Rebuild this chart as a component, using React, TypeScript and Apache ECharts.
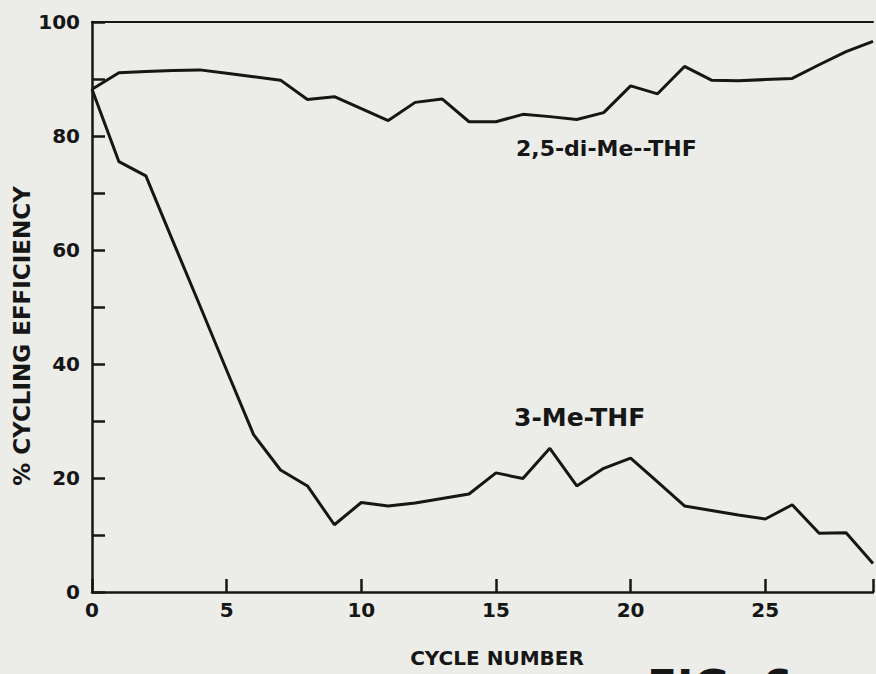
import React, { useEffect, useRef } from "react";
import * as echarts from "echarts";

const cycles = [0, 1, 2, 3, 4, 5, 6, 7, 8, 9, 10, 11, 12, 13, 14, 15, 16, 17, 18, 19, 20, 21, 22, 23, 24, 25, 26, 27, 28, 29];
const diMeTHF = [88.2, 91.1, 91.3, 91.5, 91.6, 91.0, 90.4, 89.8, 86.4, 86.9, 84.8, 82.7, 85.9, 86.5, 82.5, 82.5, 83.8, 83.4, 82.9, 84.1, 88.8, 87.4, 92.2, 89.8, 89.7, 89.9, 90.1, 92.5, 94.8, 96.6];
const meTHF = [88.2, 75.5, 73.0, 61.6, 50.3, 38.9, 27.6, 21.4, 18.6, 11.8, 15.7, 15.1, 15.6, 16.4, 17.2, 20.9, 19.9, 25.2, 18.6, 21.7, 23.5, 19.3, 15.1, 14.3, 13.5, 12.8, 15.3, 10.3, 10.4, 5.0];
const xTickLabels = ["0", "5", "10", "15", "20", "25"];
const yTickLabels = ["0", "20", "40", "60", "80", "100"];
const seriesNames = ["2,5-di-Me--THF", "3-Me-THF"];

const INK = "#161616";
const FONT = "DejaVu Sans";

export default function App() {
  const ref = useRef<HTMLDivElement>(null);
  useEffect(() => {
    const chart = echarts.init(ref.current!, null, { renderer: "svg" });
    chart.setOption({
      animation: false,
      backgroundColor: "#ecece9",
      grid: { left: 92, right: 0, top: 22, bottom: 82, containLabel: false },
      xAxis: [
        {
          type: "value",
          min: 0,
          max: 29,
          interval: 5,
          position: "bottom",
          axisLine: { show: true, lineStyle: { color: INK, width: 2.5 } },
          axisTick: { show: true, inside: true, length: 13, lineStyle: { color: INK, width: 2.5 } },
          axisLabel: {
            margin: 8,
            color: INK,
            fontFamily: FONT,
            fontWeight: "bold",
            fontSize: 20,
            formatter: (v: number) => (xTickLabels.includes(String(v)) ? String(v) : ""),
          },
          splitLine: { show: false },
        },
        {
          type: "value",
          min: 0,
          max: 29,
          position: "top",
          axisLine: { show: true, lineStyle: { color: INK, width: 2 } },
          axisTick: { show: false },
          axisLabel: { show: false },
          splitLine: { show: false },
        },
      ],
      yAxis: {
        type: "value",
        min: 0,
        max: 100,
        interval: 10,
        axisLine: { show: true, lineStyle: { color: INK, width: 2.5 } },
        axisTick: { show: true, inside: true, length: 13, lineStyle: { color: INK, width: 2.5 } },
        axisLabel: {
          margin: 12,
          color: INK,
          fontFamily: FONT,
          fontWeight: "bold",
          fontSize: 20,
          formatter: (v: number) => (yTickLabels.includes(String(v)) ? String(v) : ""),
        },
        splitLine: { show: false },
      },
      series: [
        {
          name: seriesNames[0],
          type: "line",
          xAxisIndex: 0,
          data: cycles.map((c, i) => [c, diMeTHF[i]]),
          showSymbol: false,
          silent: true,
          lineStyle: { color: INK, width: 3 },
        },
        {
          name: seriesNames[1],
          type: "line",
          xAxisIndex: 0,
          data: cycles.map((c, i) => [c, meTHF[i]]),
          showSymbol: false,
          silent: true,
          lineStyle: { color: INK, width: 3 },
        },
      ],
      graphic: [
        {
          type: "text",
          x: 22,
          y: 336,
          rotation: Math.PI / 2,
          style: {
            text: "% CYCLING EFFICIENCY",
            align: "center",
            verticalAlign: "middle",
            fontFamily: FONT,
            fontWeight: "bold",
            fontSize: 23,
            fill: INK,
          },
        },
        {
          type: "text",
          x: 497,
          y: 658,
          style: {
            text: "CYCLE NUMBER",
            align: "center",
            verticalAlign: "middle",
            fontFamily: FONT,
            fontWeight: "bold",
            fontSize: 20,
            fill: INK,
          },
        },
        {
          type: "text",
          x: 516,
          y: 148,
          style: {
            text: seriesNames[0],
            align: "left",
            verticalAlign: "middle",
            fontFamily: FONT,
            fontWeight: "bold",
            fontSize: 22,
            fill: INK,
          },
        },
        {
          type: "text",
          x: 514,
          y: 417,
          style: {
            text: seriesNames[1],
            align: "left",
            verticalAlign: "middle",
            fontFamily: FONT,
            fontWeight: "bold",
            fontSize: 25,
            fill: INK,
          },
        },
        {
          type: "text",
          x: 647,
          y: 686,
          style: {
            text: "FIG. 6",
            align: "left",
            verticalAlign: "middle",
            fontFamily: FONT,
            fontWeight: "bold",
            fontSize: 44,
            fill: INK,
          },
        },
      ],
    });
    return () => chart.dispose();
  }, []);
  return (
    <div
      ref={ref}
      style={{ position: "fixed", left: 0, top: 0, width: 876, height: 674, background: "#ecece9" }}
    />
  );
}
